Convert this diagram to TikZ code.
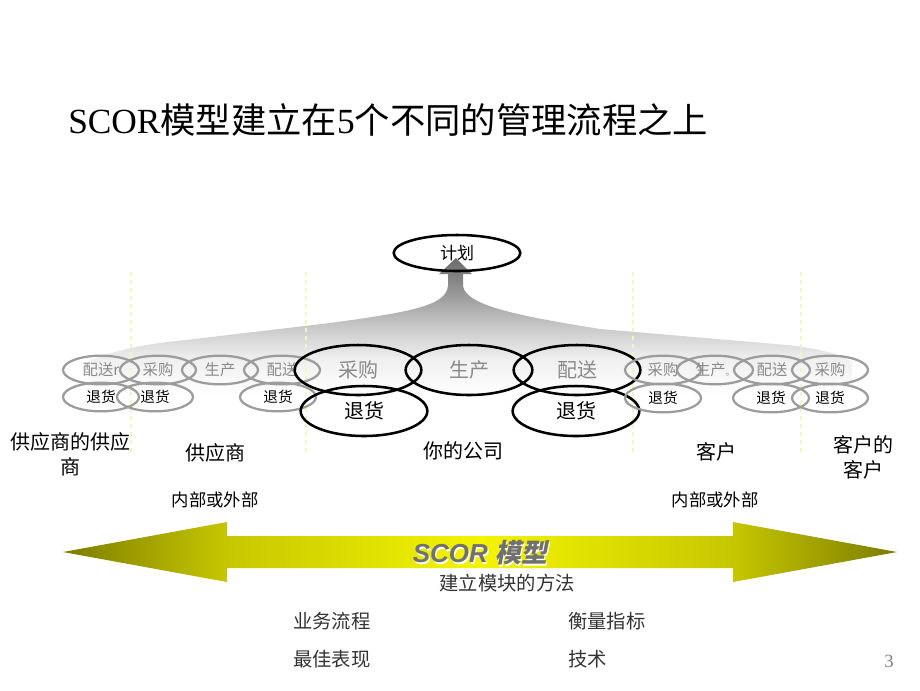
\documentclass[tikz,border=0pt]{standalone}
\usepackage{fontspec}
\setmainfont{Liberation Serif}
\newfontfamily\cjk{Noto Sans CJK SC}
\newfontfamily\arialf{Liberation Sans}
\newfontfamily\cjkslant{Noto Sans CJK SC}[FakeSlant=0.2]
\usetikzlibrary{shapes.geometric}
\definecolor{lane}{HTML}{F4F4BC}
\definecolor{barDark}{HTML}{7C7C00}
\definecolor{barMid}{HTML}{C6C600}
\definecolor{barLight}{HTML}{F4F400}
\definecolor{ovalGray}{HTML}{9C9C9C}
\definecolor{txtGray}{HTML}{8A8A8A}
\pgfdeclareverticalshading{fanshade}{100bp}{color(0bp)=(white); color(25bp)=(white);
  color(38bp)=(black!6); color(49bp)=(black!20); color(63bp)=(black!42); color(75bp)=(black!58); color(100bp)=(black!58)}
\pgfdeclarehorizontalshading{barshade}{100bp}{color(0bp)=(barDark); color(25bp)=(barDark);
  color(34.8bp)=(barMid); color(50bp)=(barLight); color(65.2bp)=(barMid); color(75bp)=(barDark); color(100bp)=(barDark)}
\tikzset{
  smallproc/.style={ellipse,draw=ovalGray,line width=1.7pt,minimum width=57pt,minimum height=21.5pt,
    inner sep=0pt,text=txtGray,font=\cjk\fontsize{11.5}{13}\selectfont},
  smallret/.style={smallproc,text=black,font=\cjk\fontsize{11}{12}\selectfont},
  bigproc/.style={ellipse,draw=black,line width=1.9pt,minimum width=95pt,minimum height=37.5pt,
    inner sep=0pt,text=txtGray,font=\cjk\fontsize{15}{17}\selectfont},
  bigret/.style={bigproc,text=black,font=\cjk\fontsize{15}{17}\selectfont},
  party/.style={font=\cjk\fontsize{15}{18.75}\selectfont,align=center,inner sep=0pt},
  scope/.style={font=\cjk\fontsize{13}{15}\selectfont,inner sep=0pt},
  method/.style={font=\cjk\fontsize{14.5}{17}\selectfont,text=black!80,inner sep=0pt},
}

\begin{document}
\begin{tikzpicture}[x=0.75pt,y=-0.75pt]
\useasboundingbox (0,0) rectangle (920,690);
% title
\node[anchor=west,inner sep=0pt,font=\fontsize{26.5}{30}\selectfont] (title) at (68,120)
  {SCOR{\cjk 模型建立在}5{\cjk 个不同的管理流程之上}};
% plan fan
\shade[shading=fanshade] (456,258) -- (472,274) -- (463,274) -- (463,286)
  .. controls (466,306) and (520,316) .. (600,329) -- (787,345)
  .. controls (815,348) and (835,352) .. (852,362) -- (852,395) -- (88,395) -- (88,362)
  .. controls (100,355) and (130,347) .. (160,343) -- (330,323)
  .. controls (410,312) and (446,306) .. (448,286) -- (448,274) -- (439,274) -- cycle;
\foreach \lx in {131,306,633,801}
  \draw[lane,dashed,line width=0.8pt] (\lx,272) -- (\lx,452);
\node[bigproc,text=black,minimum height=27pt,font=\cjk\fontsize{12.75}{15}\selectfont] (plan) at (457,253) {计划};
% supplier side
\node[smallproc] (ssDel) at (101,370) {配送r};
\node[smallproc] (sSrc) at (158,370) {采购};
\node[smallproc] (sMake) at (220,370) {生产};
\node[smallproc] (sDel) at (282,370) {配送};
\node[smallret] (ssRet) at (101,397) {退货};
\node[smallret] (sRetA) at (155,397) {退货};
\node[smallret] (sRetB) at (278,397) {退货};
% your company
\node[bigproc] (cSrc) at (358,370) {采购};
\node[bigproc] (cMake) at (469,370) {生产};
\node[bigproc] (cDel) at (577,370) {配送};
\node[bigret] (cRetA) at (364,411) {退货};
\node[bigret] (cRetB) at (576,411) {退货};
% customer side
\node[smallproc] (kSrc) at (663,370) {采购};
\node[smallproc] (kMake) at (715,370) {生产{\fontsize{7}{7}\selectfont 。}};
\node[smallproc] (kDel) at (772,370) {配送};
\node[smallproc] (kkSrc) at (830,370) {采购};
\node[smallret] (kRet) at (663,398) {退货};
\node[smallret] (kRetB) at (771,398) {退货};
\node[smallret] (kkRet) at (830,398) {退货};
% parties
\node[party] (supsup) at (70,454) {供应商的供应\\商};
\node[party] (sup) at (215,453) {供应商};
\node[party] (ours) at (463,451) {你的公司};
\node[party] (cust) at (716,452) {客户};
\node[party] (custcust) at (863,457) {客户的\\客户};
\node[scope] (intL) at (215,500) {内部或外部};
\node[scope] (intR) at (715,500) {内部或外部};
% scor bar
\shade[shading=barshade] (63,552) -- (227,522) -- (227,536) -- (733,536) -- (733,522) -- (897,552)
  -- (733,582) -- (733,568) -- (227,568) -- (227,582) -- cycle;
\node[inner sep=0pt,text=white,font=\fontsize{19.5}{22}\selectfont] at (481.2,554.2)
  {\arialf\bfseries\itshape SCOR {\cjkslant\bfseries 模型}};
\node[inner sep=0pt,text=black!56,font=\fontsize{19.5}{22}\selectfont] (scor) at (480,553)
  {\arialf\bfseries\itshape SCOR {\cjkslant\bfseries 模型}};
\node[method] (build) at (507,583) {建立模块的方法};
\node[method,anchor=west] (biz) at (293,621) {业务流程};
\node[method,anchor=west] (metric) at (568,621) {衡量指标};
\node[method,anchor=west] (best) at (293,659) {最佳表现};
\node[method,anchor=west] (tech) at (568,659) {技术};
\node[text=gray,inner sep=0pt,font=\fontsize{14}{16}\selectfont] (pageno) at (889,661) {3};
\end{tikzpicture}
\end{document}
